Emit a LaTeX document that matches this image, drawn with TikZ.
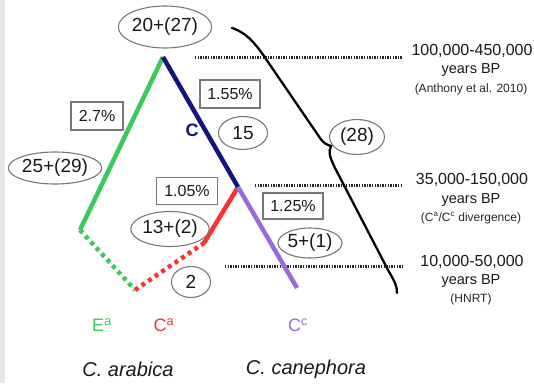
\documentclass[tikz,border=0pt]{standalone}
\usepackage{fontspec}
\setmainfont{Liberation Sans}
\usetikzlibrary{shapes.geometric}
\definecolor{tgreen}{RGB}{60,200,90}
\definecolor{tblue}{RGB}{20,20,125}
\definecolor{tred}{RGB}{250,50,50}
\definecolor{tpurple}{RGB}{155,105,220}
\definecolor{tgray}{RGB}{120,120,120}
\definecolor{strip}{RGB}{230,230,230}
\tikzset{
  oval/.style={ellipse,draw=tgray,line width=1.1pt,inner sep=0pt,font=\fontsize{19}{19}\selectfont,text=black!90},
  pbox/.style={rectangle,draw=tgray,line width=1.1pt,inner sep=0pt,font=\fontsize{16}{16}\selectfont,text=black!90},
  branch/.style={line width=4.5pt},
  dotbranch/.style={line width=4.5pt,dash pattern=on 4pt off 4pt},
  timeline/.style={line width=3pt,dash pattern=on 1.3pt off 1.3pt,black!85},
  big/.style={font=\fontsize{16}{16}\selectfont,text=black!90},
  mid/.style={font=\fontsize{14.5}{14.5}\selectfont,text=black!90},
  small/.style={font=\fontsize{12}{12}\selectfont,text=black!85},
  tip/.style={font=\fontsize{18}{18}\selectfont},
  species/.style={font=\itshape\fontsize{20}{20}\selectfont,text=black!90}
}
\begin{document}
\begin{tikzpicture}[x=1pt,y=-1pt]
\useasboundingbox (0,0) rectangle (534,383);
\fill[strip] (0,0) rectangle (5,383);
% tree points
\coordinate (apex) at (163,57);
\coordinate (gbot) at (80,230);
\coordinate (root) at (135,290);
\coordinate (rmid) at (204,243);
\coordinate (split) at (238,187);
\coordinate (pend) at (297,288);
% timelines
\coordinate (t1a) at (195,57);  \coordinate (t1b) at (402,57);
\coordinate (t2a) at (255,185); \coordinate (t2b) at (402,185);
\coordinate (t3a) at (225,266); \coordinate (t3b) at (402,266);
\draw[timeline] (t1a) -- (t1b);
\draw[timeline] (t2a) -- (t2b);
\draw[timeline] (t3a) -- (t3b);
% branches
\draw[branch,tgreen] (apex) -- (gbot);
\draw[dotbranch,tgreen] (gbot) -- (root);
\draw[dotbranch,tred] (root) -- (rmid);
\draw[branch,tred] (rmid) -- (split);
\draw[branch,tblue] (apex) -- (split);
\draw[branch,tpurple] (split) -- (pend);
% brace
\draw[line width=2.3pt,line cap=round] (232,28) .. controls (248,33) and (258,47) .. (268,62)
  -- (320,138) .. controls (324,144) and (328,145) .. (331,146)
  .. controls (328,152) and (330,157) .. (334,166)
  -- (388,270) .. controls (395,282) and (397,286) .. (397,293);
% ovals
\node[oval,minimum width=84pt,minimum height=42pt] (o1) at (165,27) {20+(27)};
\node[oval,minimum width=84pt,minimum height=32pt] (o2) at (55,168) {25+(29)};
\node[oval,minimum width=49pt,minimum height=33pt] (o3) at (243,133) {15};
\node[oval,minimum width=74pt,minimum height=35pt] (o4) at (170,229) {13+(2)};
\node[oval,minimum width=39pt,minimum height=31pt] (o5) at (191,282) {2};
\node[oval,minimum width=64pt,minimum height=30pt] (o6) at (310,243) {5+(1)};
\node[oval,minimum width=55pt,minimum height=35pt] (o7) at (357,137) {(28)};
% boxes
\node[pbox,minimum width=52pt,minimum height=28pt] (b1) at (97,116) {2.7\%};
\node[pbox,minimum width=60pt,minimum height=28pt] (b2) at (230,94) {1.55\%};
\node[pbox,minimum width=61pt,minimum height=27pt] (b3) at (187,191) {1.05\%};
\node[pbox,minimum width=60pt,minimum height=26pt] (b4) at (293,206) {1.25\%};
% C label
\node[tip,text=tblue,font=\bfseries\fontsize{18}{18}\selectfont] (clab) at (192,130) {C};
% right labels
\node[big] (l1a) at (472,51) {100,000-450,000};
\node[mid] (l1b) at (471,70) {years BP};
\node[small] (l1c) at (471,89) {(Anthony et al. 2010)};
\node[big] (l2a) at (472,180) {35,000-150,000};
\node[mid] (l2b) at (471,200) {years BP};
\node[small] (l2c) at (471,218) {(C\textsuperscript{a}/C\textsuperscript{c} divergence)};
\node[big] (l3a) at (472,262) {10,000-50,000};
\node[mid] (l3b) at (471,281) {years BP};
\node[small] (l3c) at (471,299) {(HNRT)};
% tip labels
\node[tip,text=tgreen] (ea) at (102,325) {E\textsuperscript{a}};
\node[tip,text=tred] (ca) at (164,325) {C\textsuperscript{a}};
\node[tip,text=tpurple] (cc) at (298,325) {C\textsuperscript{c}};
\node[species] (s1) at (128,369) {C. arabica};
\node[species] (s2) at (306,369) {C. canephora};
\end{tikzpicture}
\end{document}
